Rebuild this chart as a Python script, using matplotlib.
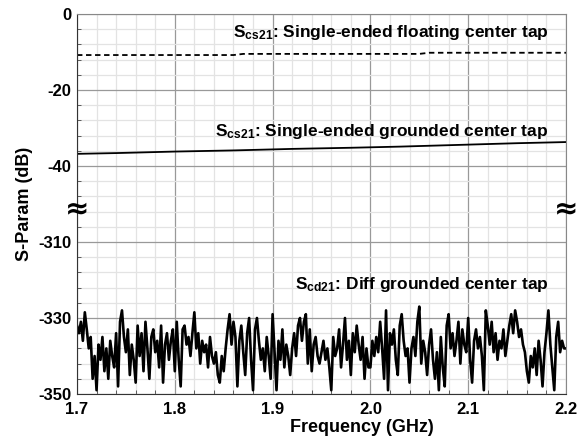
import matplotlib
matplotlib.use('Agg')
import matplotlib.pyplot as plt
import numpy as np
from matplotlib.ticker import MultipleLocator

plt.rcParams['font.family'] = 'Liberation Sans'
plt.rcParams['font.weight'] = 'bold'
plt.rcParams['mathtext.fontset'] = 'custom'
plt.rcParams['mathtext.rm'] = 'Liberation Sans:bold'
plt.rcParams['mathtext.bf'] = 'Liberation Sans:bold'

# Scs21 floating center tap (dashed)
f_float = [1.70, 1.86, 1.87, 2.05, 2.06, 2.20]
s_float = [-10.8, -10.8, -10.5, -10.5, -10.2, -10.2]

# Scs21 grounded center tap (solid)
f_gnd = [1.70, 1.74, 1.80, 1.86, 1.92, 1.98, 2.03, 2.07, 2.11, 2.15, 2.20]
s_gnd = [-36.8, -36.6, -36.2, -35.9, -35.5, -35.2, -34.9, -34.6, -34.3, -34.0, -33.7]

# Scd21 diff grounded center tap (noise floor), 2 MHz steps from 1.7 GHz
s_diff = [
    -332, -334, -331, -336, -328.5, -333, -338, -335, -346, -340,
    -349, -337, -341, -335, -344, -338, -346, -336, -340, -343,
    -334, -348, -331, -328, -335, -339, -333, -345, -337, -341,
    -347, -332, -340, -334, -344, -331, -338, -346, -335, -333,
    -339, -336, -343, -332, -347, -337, -334, -341, -336, -333,
    -344, -331, -341, -348, -333, -332, -337, -335, -340, -334,
    -328.5, -338, -334, -342, -336, -339, -337, -343, -335, -340,
    -342, -339, -345, -347, -340, -344, -338, -333, -329, -337,
    -331, -335, -348, -336, -332, -339, -345, -334, -330, -341,
    -349, -333, -330, -336, -341, -338, -344, -335, -340, -346,
    -329, -339, -349, -336, -341, -333, -343, -337, -340, -345,
    -338, -334, -340, -332, -330, -336, -331, -329, -342, -333,
    -344, -337, -335, -340, -342, -339, -336, -341, -338, -343,
    -349, -335, -340, -338, -333, -343, -337, -330, -341, -336,
    -345, -334, -339, -332, -337, -341, -335, -346, -338, -343,
    -343, -336, -340, -335, -339, -331, -338, -346, -328, -349,
    -334, -337, -333, -341, -345, -332, -329, -336, -340, -338,
    -347, -338, -335, -340, -331, -327, -342, -336, -339, -345,
    -337, -333, -341, -346, -339, -349, -335, -343, -348, -332,
    -329, -338, -334, -340, -336, -331, -342, -333, -337, -339,
    -330, -341, -347, -336, -333, -338, -335, -340, -349, -328,
    -332, -337, -331, -339, -334, -341, -336, -338, -333, -340,
    -336, -332, -329, -334, -328, -331, -335, -333, -337, -339,
    -344, -347, -340, -343, -338, -345, -336, -341, -348, -339,
    -334, -328, -337, -343, -349, -335, -331, -339, -336, -338,
    -338,
]
f_diff = np.linspace(1.7, 2.2, len(s_diff))

ytick_vals = [0, -20, -40, -310, -330, -350]
xtick_vals = [1.7, 1.8, 1.9, 2.0, 2.1, 2.2]

# broken axis: values below -100 are shifted up by 250 dB
def brk(v):
    v = np.asarray(v, dtype=float)
    return np.where(v < -100, v + 250, v)

fig = plt.figure(figsize=(5.78, 4.4), dpi=100)
ax = fig.add_axes([77/578, 1-394/440, (566-77)/578, (394-14)/440])

ax.plot(f_float, brk(s_float), color='black', lw=1.3, ls=(0, (3, 2)))
ax.plot(f_gnd, brk(s_gnd), color='black', lw=1.3)
ax.plot(f_diff, brk(s_diff), color='black', lw=1.9)

ax.set_xlim(1.7, 2.2)
ax.set_ylim(-100, 0)
ax.set_xticks(xtick_vals)
ax.set_xticklabels([f'{v:.1f}' for v in xtick_vals])
ax.set_yticks(brk(ytick_vals))
ax.set_yticklabels([str(v) for v in ytick_vals])
ax.xaxis.set_minor_locator(MultipleLocator(0.02))
ax.yaxis.set_minor_locator(MultipleLocator(4))
ax.grid(which='major', color='#999999', lw=0.9)
ax.grid(which='minor', color='#e3e3e3', lw=0.9)
ax.set_axisbelow(True)
ax.tick_params(which='both', direction='in', labelsize=12, pad=4)
ax.tick_params(axis='x', which='both', pad=6)
ax.tick_params(which='major', length=0)
ax.tick_params(which='minor', length=3, color='#444444')
for s in ax.spines.values():
    s.set_color('#888888')
ax.spines['left'].set_color('#333333')
ax.spines['bottom'].set_color('#333333')

ax.set_xlabel('Frequency (GHz)', fontsize=13, fontweight='bold', labelpad=0)
ax.xaxis.set_label_coords(0.583, -0.066, transform=ax.transAxes)
ax.xaxis.label.set_va('top')
ax.set_ylabel('S-Param (dB)', fontsize=13, fontweight='bold', labelpad=4)

ax.text(2.182, -4.8, r'$\mathregular{S_{cs21}}$: Single-ended floating center tap',
        ha='right', va='center', fontsize=12.5)
ax.text(2.182, -31.0, r'$\mathregular{S_{cs21}}$: Single-ended grounded center tap',
        ha='right', va='center', fontsize=12.5)
ax.text(2.182, -71.2, r'$\mathregular{S_{cd21}}$: Diff grounded center tap',
        ha='right', va='center', fontsize=12.5)

for xp in [1.7, 2.2]:
    ax.text(xp, -51.5, '\u2248', ha='center', va='center', fontsize=21,
            fontweight='bold', family='DejaVu Sans', clip_on=False)

fig.savefig('out.png', dpi=100)
